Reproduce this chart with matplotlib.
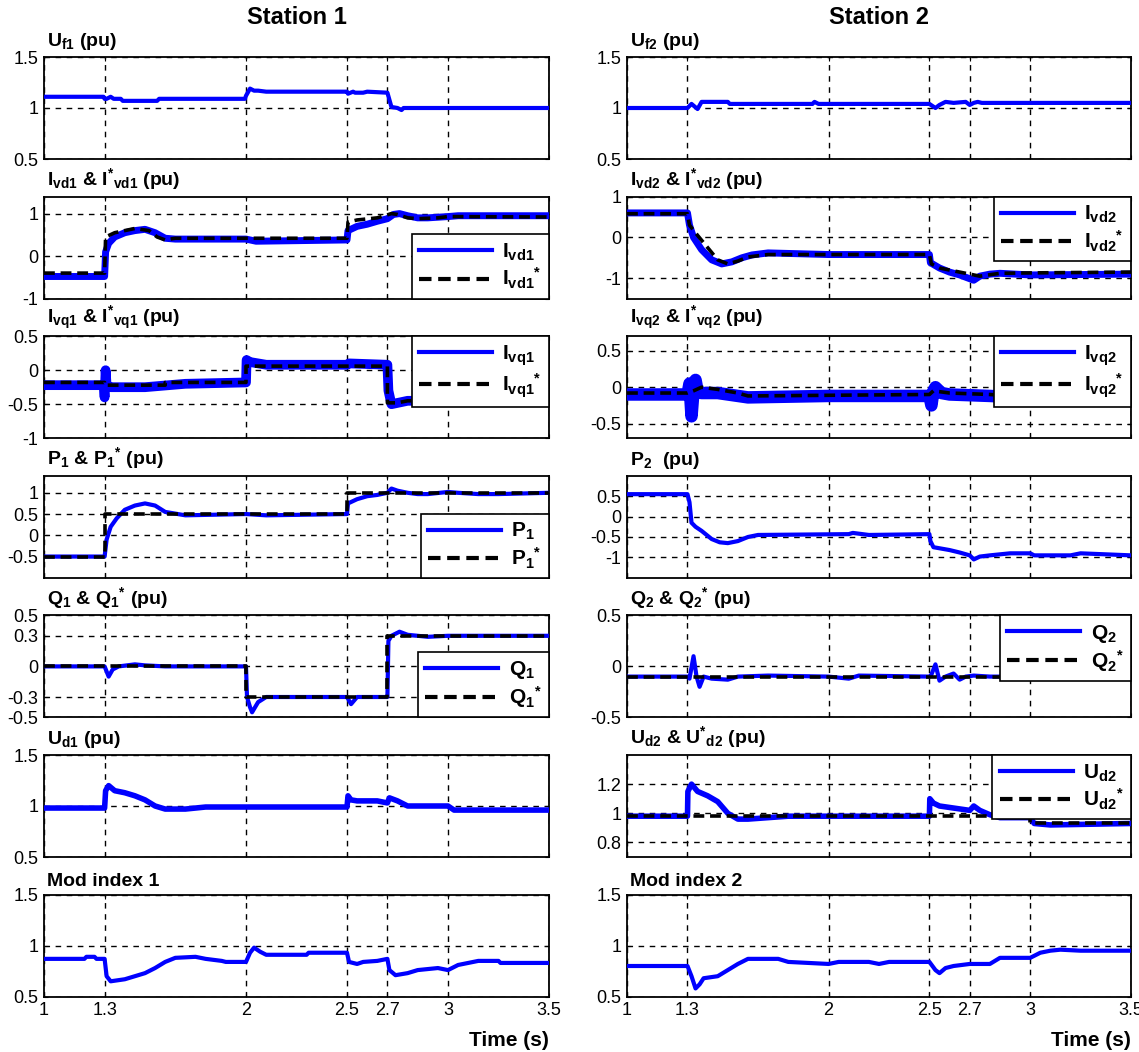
import matplotlib
matplotlib.use("Agg")
import matplotlib.pyplot as plt
from matplotlib.lines import Line2D

plt.rcParams['font.family'] = ['Liberation Sans', 'DejaVu Sans']
plt.rcParams['mathtext.fontset'] = 'custom'
plt.rcParams['mathtext.rm'] = 'Liberation Sans:bold'
plt.rcParams['mathtext.it'] = 'Liberation Sans:bold'
plt.rcParams['mathtext.bf'] = 'Liberation Sans:bold'
plt.rcParams['mathtext.default'] = 'rm'

# ---------------- data (time in s, values in pu) ----------------
xticks = [1, 1.3, 2, 2.5, 2.7, 3, 3.5]
xticklabels = ['1', '1.3', '2', '2.5', '2.7', '3', '3.5']

# Station 1
uf1_t = [1.0, 1.295, 1.30, 1.31, 1.33, 1.345, 1.38, 1.39, 1.56, 1.57, 1.995, 2.0, 2.02, 2.04, 2.06, 2.1, 2.5, 2.505, 2.53, 2.54, 2.58, 2.6, 2.7, 2.71, 2.72, 2.75, 2.77, 2.78, 3.5]
uf1_y = [1.11, 1.11, 1.09, 1.09, 1.11, 1.09, 1.09, 1.07, 1.07, 1.09, 1.09, 1.12, 1.19, 1.17, 1.17, 1.16, 1.16, 1.14, 1.16, 1.15, 1.15, 1.16, 1.15, 1.08, 1.01, 1.0, 0.98, 1.0, 1.0]

ivd1_t = [1.0, 1.3, 1.305, 1.32, 1.35, 1.4, 1.45, 1.5, 1.55, 1.6, 1.65, 1.7, 2.0, 2.05, 2.5, 2.505, 2.55, 2.6, 2.65, 2.7, 2.73, 2.76, 2.8, 2.85, 2.9, 3.0, 3.05, 3.5]
ivd1_y = [-0.48, -0.48, 0.1, 0.3, 0.45, 0.55, 0.6, 0.63, 0.55, 0.42, 0.4, 0.4, 0.4, 0.35, 0.38, 0.6, 0.7, 0.75, 0.82, 0.88, 0.98, 1.0, 0.95, 0.9, 0.9, 0.93, 0.95, 0.95]
ivd1r_t = [1.0, 1.3, 1.305, 1.35, 1.45, 1.52, 1.56, 1.6, 1.65, 2.5, 2.505, 2.55, 2.65, 2.72, 2.75, 2.8, 2.85, 2.95, 3.0, 3.5]
ivd1r_y = [-0.4, -0.4, 0.45, 0.55, 0.65, 0.6, 0.45, 0.38, 0.42, 0.42, 0.8, 0.85, 0.9, 1.0, 0.98, 0.9, 0.88, 0.9, 0.93, 0.92]

ivq1_t = [1.0, 1.295, 1.30, 1.305, 1.31, 1.33, 1.5, 1.7, 2.0, 2.003, 2.02, 2.1, 2.5, 2.51, 2.7, 2.705, 2.72, 2.8, 2.9, 3.5]
ivq1_y = [-0.22, -0.22, -0.4, 0.0, -0.22, -0.25, -0.25, -0.2, -0.18, 0.15, 0.12, 0.08, 0.08, 0.1, 0.08, -0.3, -0.5, -0.45, -0.45, -0.45]
ivq1r_t = [1.0, 1.3, 1.3, 1.6, 1.6, 2.0, 2.0, 2.7, 2.7, 2.75, 2.8, 3.5]
ivq1r_y = [-0.18, -0.18, -0.22, -0.22, -0.18, -0.18, 0.06, 0.06, -0.48, -0.48, -0.45, -0.45]

p1_t = [1.0, 1.3, 1.31, 1.33, 1.36, 1.4, 1.45, 1.5, 1.55, 1.6, 1.7, 2.0, 2.1, 2.5, 2.505, 2.55, 2.6, 2.65, 2.7, 2.72, 2.75, 2.8, 2.85, 2.9, 3.0, 3.05, 3.15, 3.25, 3.5]
p1_y = [-0.5, -0.5, -0.1, 0.2, 0.4, 0.6, 0.7, 0.75, 0.7, 0.55, 0.47, 0.5, 0.47, 0.5, 0.75, 0.85, 0.92, 0.95, 1.0, 1.1, 1.05, 1.0, 0.97, 0.97, 1.02, 1.0, 0.97, 0.97, 1.0]
p1r_t = [1.0, 1.3, 1.3, 2.5, 2.5, 3.5]
p1r_y = [-0.5, -0.5, 0.5, 0.5, 1.0, 1.0]

q1_t = [1.0, 1.3, 1.32, 1.34, 1.37, 1.45, 1.5, 1.6, 2.0, 2.005, 2.02, 2.03, 2.06, 2.1, 2.5, 2.52, 2.55, 2.6, 2.7, 2.705, 2.72, 2.76, 2.8, 2.9, 3.0, 3.5]
q1_y = [0.0, 0.0, -0.1, -0.03, 0.0, 0.02, 0.01, 0.0, 0.0, -0.3, -0.4, -0.45, -0.35, -0.3, -0.3, -0.37, -0.3, -0.3, -0.3, 0.25, 0.3, 0.34, 0.31, 0.29, 0.3, 0.3]
q1r_t = [1.0, 2.0, 2.0, 2.7, 2.7, 3.5]
q1r_y = [0.0, 0.0, -0.3, -0.3, 0.3, 0.3]

ud1_t = [1.0, 1.3, 1.305, 1.32, 1.35, 1.4, 1.45, 1.5, 1.55, 1.6, 1.7, 1.8, 2.5, 2.505, 2.52, 2.55, 2.65, 2.7, 2.71, 2.75, 2.8, 2.9, 3.0, 3.03, 3.1, 3.5]
ud1_y = [0.98, 0.98, 1.15, 1.2, 1.15, 1.13, 1.1, 1.06, 1.0, 0.97, 0.97, 0.99, 0.99, 1.1, 1.06, 1.05, 1.05, 1.03, 1.08, 1.05, 1.0, 1.0, 1.0, 0.96, 0.96, 0.96]

m1_t = [1.0, 1.2, 1.21, 1.25, 1.26, 1.3, 1.31, 1.33, 1.4, 1.5, 1.55, 1.6, 1.65, 1.75, 1.8, 1.88, 1.9, 2.0, 2.02, 2.04, 2.07, 2.1, 2.3, 2.31, 2.5, 2.51, 2.55, 2.58, 2.65, 2.7, 2.71, 2.74, 2.8, 2.85, 2.95, 3.0, 3.02, 3.05, 3.1, 3.15, 3.25, 3.26, 3.5]
m1_y = [0.87, 0.87, 0.89, 0.89, 0.87, 0.87, 0.7, 0.65, 0.67, 0.73, 0.78, 0.84, 0.88, 0.89, 0.87, 0.85, 0.84, 0.84, 0.93, 0.98, 0.94, 0.91, 0.91, 0.93, 0.93, 0.84, 0.82, 0.84, 0.85, 0.87, 0.76, 0.71, 0.73, 0.76, 0.78, 0.76, 0.78, 0.81, 0.83, 0.85, 0.85, 0.83, 0.83]

# Station 2
uf2_t = [1.0, 1.3, 1.32, 1.35, 1.37, 1.4, 1.5, 1.51, 1.92, 1.93, 1.95, 2.01, 2.02, 2.5, 2.53, 2.55, 2.58, 2.62, 2.68, 2.7, 2.72, 2.74, 2.76, 3.5]
uf2_y = [1.0, 1.0, 1.04, 0.99, 1.06, 1.06, 1.06, 1.04, 1.04, 1.06, 1.04, 1.04, 1.04, 1.04, 1.0, 1.03, 1.06, 1.05, 1.06, 1.03, 1.05, 1.06, 1.05, 1.05]

ivd2_t = [1.0, 1.3, 1.31, 1.33, 1.37, 1.42, 1.47, 1.52, 1.57, 1.62, 1.7, 2.0, 2.5, 2.505, 2.55, 2.6, 2.65, 2.72, 2.75, 2.8, 2.85, 3.0, 3.5]
ivd2_y = [0.6, 0.6, 0.3, 0.0, -0.3, -0.55, -0.65, -0.6, -0.5, -0.43, -0.38, -0.42, -0.42, -0.62, -0.75, -0.85, -0.92, -1.05, -0.95, -0.9, -0.88, -0.92, -0.9]
ivd2r_t = [1.0, 1.3, 1.31, 1.35, 1.4, 1.45, 1.5, 1.55, 1.6, 1.7, 2.5, 2.51, 2.55, 2.65, 2.7, 2.75, 2.85, 3.0, 3.5]
ivd2r_y = [0.58, 0.58, 0.3, 0.05, -0.25, -0.55, -0.65, -0.58, -0.48, -0.42, -0.42, -0.65, -0.75, -0.85, -0.9, -0.95, -0.88, -0.87, -0.85]

ivq2_t = [1.0, 1.3, 1.31, 1.32, 1.33, 1.34, 1.35, 1.37, 1.45, 1.55, 1.6, 2.0, 2.5, 2.51, 2.52, 2.53, 2.56, 2.6, 2.8, 3.0, 3.5]
ivq2_y = [-0.1, -0.1, 0.05, -0.4, -0.05, 0.1, -0.05, -0.08, -0.08, -0.12, -0.14, -0.12, -0.12, -0.25, -0.05, 0.0, -0.08, -0.1, -0.12, -0.15, -0.15]
ivq2r_t = [1.0, 1.3, 1.33, 1.37, 1.45, 1.55, 1.6, 2.5, 2.52, 2.6, 2.8, 2.9, 3.5]
ivq2r_y = [-0.08, -0.08, -0.05, 0.0, -0.03, -0.08, -0.12, -0.1, -0.05, -0.08, -0.1, -0.12, -0.12]

p2_t = [1.0, 1.3, 1.31, 1.32, 1.34, 1.37, 1.42, 1.46, 1.5, 1.55, 1.6, 1.65, 2.1, 2.12, 2.2, 2.5, 2.505, 2.52, 2.6, 2.65, 2.7, 2.72, 2.75, 2.8, 2.9, 3.0, 3.02, 3.2, 3.25, 3.5]
p2_y = [0.55, 0.55, 0.35, -0.15, -0.25, -0.35, -0.55, -0.63, -0.65, -0.6, -0.5, -0.45, -0.43, -0.4, -0.45, -0.43, -0.6, -0.75, -0.82, -0.88, -0.95, -1.05, -0.98, -0.95, -0.9, -0.9, -0.95, -0.95, -0.9, -0.95]

q2_t = [1.0, 1.3, 1.31, 1.33, 1.345, 1.36, 1.38, 1.42, 1.5, 1.55, 1.7, 2.0, 2.1, 2.15, 2.5, 2.51, 2.53, 2.55, 2.58, 2.62, 2.65, 2.68, 2.72, 2.8, 3.5]
q2_y = [-0.1, -0.1, -0.12, 0.1, -0.1, -0.2, -0.1, -0.12, -0.13, -0.1, -0.09, -0.1, -0.12, -0.09, -0.1, -0.08, 0.02, -0.14, -0.1, -0.07, -0.13, -0.1, -0.09, -0.1, -0.1]
q2r_t = [1.0, 3.5]
q2r_y = [-0.1, -0.1]

ud2_t = [1.0, 1.3, 1.302, 1.32, 1.35, 1.4, 1.45, 1.5, 1.55, 1.6, 1.7, 1.8, 2.5, 2.502, 2.52, 2.55, 2.65, 2.7, 2.72, 2.75, 2.8, 2.85, 3.0, 3.02, 3.1, 3.5]
ud2_y = [0.98, 0.98, 1.15, 1.2, 1.15, 1.12, 1.08, 1.0, 0.96, 0.96, 0.97, 0.98, 0.98, 1.1, 1.07, 1.05, 1.03, 1.02, 1.05, 1.02, 0.99, 0.97, 0.97, 0.93, 0.92, 0.93]
ud2r_t = [1.0, 3.0, 3.0, 3.5]
ud2r_y = [0.98, 0.98, 0.93, 0.93]

m2_t = [1.0, 1.3, 1.32, 1.34, 1.36, 1.38, 1.45, 1.5, 1.55, 1.6, 1.7, 1.75, 1.8, 2.0, 2.05, 2.2, 2.25, 2.3, 2.5, 2.53, 2.55, 2.58, 2.62, 2.7, 2.8, 2.85, 3.0, 3.05, 3.1, 3.15, 3.25, 3.5]
m2_y = [0.8, 0.8, 0.7, 0.58, 0.62, 0.68, 0.7, 0.76, 0.82, 0.87, 0.87, 0.87, 0.84, 0.82, 0.84, 0.84, 0.82, 0.84, 0.84, 0.76, 0.73, 0.78, 0.8, 0.82, 0.82, 0.88, 0.88, 0.93, 0.95, 0.96, 0.95, 0.95]

# ---------------- panel definitions ----------------
left_panels = [
    dict(title=r'$U_{f1}$ (pu)', t=uf1_t, y=uf1_y, lw=3, ylim=(0.5, 1.5), yt=[0.5, 1, 1.5]),
    dict(title=r'$I_{vd1}$ & $I^{*}{}_{vd1}$ (pu)', t=ivd1_t, y=ivd1_y, lw=5, rt=ivd1r_t, ry=ivd1r_y,
         ylim=(-1, 1.4), yt=[-1, 0, 1], leg=(r'$I_{vd1}$', r'$I_{vd1}{}^{*}$'), loc='lower right'),
    dict(title=r'$I_{vq1}$ & $I^{*}{}_{vq1}$ (pu)', t=ivq1_t, y=ivq1_y, lw=7, rt=ivq1r_t, ry=ivq1r_y,
         ylim=(-1, 0.5), yt=[-1, -0.5, 0, 0.5], leg=(r'$I_{vq1}$', r'$I_{vq1}{}^{*}$'), loc='upper right'),
    dict(title=r'$P_1$ & $P_1{}^{*}$ (pu)', t=p1_t, y=p1_y, lw=3, rt=p1r_t, ry=p1r_y,
         ylim=(-1, 1.4), yt=[-0.5, 0, 0.5, 1], leg=(r'$P_1$', r'$P_1{}^{*}$'), loc='lower right'),
    dict(title=r'$Q_1$ & $Q_1{}^{*}$ (pu)', t=q1_t, y=q1_y, lw=3, rt=q1r_t, ry=q1r_y,
         ylim=(-0.5, 0.5), yt=[-0.5, -0.3, 0, 0.3, 0.5], leg=(r'$Q_1$', r'$Q_1{}^{*}$'), loc='lower right'),
    dict(title=r'$U_{d1}$ (pu)', t=ud1_t, y=ud1_y, lw=4, ylim=(0.5, 1.5), yt=[0.5, 1, 1.5]),
    dict(title='Mod index 1', t=m1_t, y=m1_y, lw=3, ylim=(0.5, 1.5), yt=[0.5, 1, 1.5]),
]
right_panels = [
    dict(title=r'$U_{f2}$ (pu)', t=uf2_t, y=uf2_y, lw=3, ylim=(0.5, 1.5), yt=[0.5, 1, 1.5]),
    dict(title=r'$I_{vd2}$ & $I^{*}{}_{vd2}$ (pu)', t=ivd2_t, y=ivd2_y, lw=5, rt=ivd2r_t, ry=ivd2r_y,
         ylim=(-1.5, 1), yt=[-1, 0, 1], leg=(r'$I_{vd2}$', r'$I_{vd2}{}^{*}$'), loc='upper right'),
    dict(title=r'$I_{vq2}$ & $I^{*}{}_{vq2}$ (pu)', t=ivq2_t, y=ivq2_y, lw=9, rt=ivq2r_t, ry=ivq2r_y,
         ylim=(-0.7, 0.7), yt=[-0.5, 0, 0.5], leg=(r'$I_{vq2}$', r'$I_{vq2}{}^{*}$'), loc='upper right'),
    dict(title=r'$P_2$  (pu)', t=p2_t, y=p2_y, lw=3, ylim=(-1.5, 1), yt=[-1, -0.5, 0, 0.5]),
    dict(title=r'$Q_2$ & $Q_2{}^{*}$ (pu)', t=q2_t, y=q2_y, lw=3, rt=q2r_t, ry=q2r_y,
         ylim=(-0.5, 0.5), yt=[-0.5, 0, 0.5], leg=(r'$Q_2$', r'$Q_2{}^{*}$'), loc='upper right'),
    dict(title=r'$U_{d2}$ & $U^{*}{}_{d2}$ (pu)', t=ud2_t, y=ud2_y, lw=4, rt=ud2r_t, ry=ud2r_y,
         ylim=(0.7, 1.4), yt=[0.8, 1, 1.2], leg=(r'$U_{d2}$', r'$U_{d2}{}^{*}$'), loc='upper right'),
    dict(title='Mod index 2', t=m2_t, y=m2_y, lw=3, ylim=(0.5, 1.5), yt=[0.5, 1, 1.5]),
]

W, H = 1139, 1052
fig = plt.figure(figsize=(W / 100, H / 100), dpi=100)

cols = [(44, 549, left_panels), (627, 1131, right_panels)]
row_top0 = 57
row_step = 139.6
row_h = 102

BLUE = '#0000ff'
grid_kw = dict(color='black', linewidth=1.0, linestyle=(0, (4, 4)))

def fmt(v):
    return ('%g' % v)

for (x0, x1, panels) in cols:
    for i, p in enumerate(panels):
        top = row_top0 + i * row_step
        ax = fig.add_axes([x0 / W, 1 - (top + row_h) / H, (x1 - x0) / W, row_h / H])
        ax.plot(p['t'], p['y'], color=BLUE, lw=p['lw'], solid_joinstyle='round',
                solid_capstyle='butt', zorder=3)
        if 'rt' in p:
            ax.plot(p['rt'], p['ry'], color='black', lw=2.6, linestyle=(0, (3, 1.6)), zorder=4)
        ax.set_xlim(1, 3.5)
        ax.set_ylim(*p['ylim'])
        ax.set_xticks(xticks)
        ax.set_yticks(p['yt'])
        ax.set_yticklabels([fmt(v) for v in p['yt']])
        if i == len(panels) - 1:
            ax.set_xticklabels(xticklabels)
        else:
            ax.set_xticklabels([])
        ax.tick_params(direction='in', length=3, width=0.8, labelsize=13, pad=4,
                       top=True, right=True)
        ax.grid(True, **grid_kw)
        ax.set_axisbelow(True)
        for s in ax.spines.values():
            s.set_linewidth(1.3)
        ax.text(0.005, 1.045, p['title'], transform=ax.transAxes, fontsize=14,
                fontweight='bold', ha='left', va='bottom')
        if 'leg' in p:
            handles = [Line2D([], [], color=BLUE, lw=3),
                       Line2D([], [], color='black', lw=3, linestyle=(0, (3, 1.6)))]
            lg = ax.legend(handles, p['leg'], loc=p['loc'], borderaxespad=0,
                           fancybox=False, edgecolor='black', framealpha=1,
                           fontsize=15, handlelength=3.5, handletextpad=0.5,
                           labelspacing=0.15, borderpad=0.35)
            lg.get_frame().set_linewidth(1.2)
            lg.set_zorder(10)
        if i == len(panels) - 1:
            ax.text(1.0, -0.34, 'Time (s)', transform=ax.transAxes, fontsize=15,
                    fontweight='bold', ha='right', va='top')
    fig.text(((x0 + x1) / 2) / W, 1 - 18 / H, 'Station %d' % (1 if x0 < 500 else 2),
             fontsize=17, fontweight='bold', ha='center', va='center')

fig.savefig('out.png', dpi=100)
